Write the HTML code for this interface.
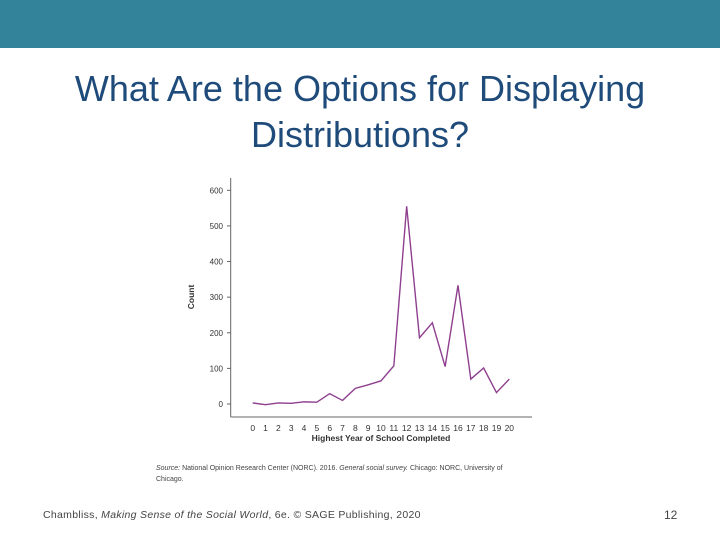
<!DOCTYPE html>
<html><head><meta charset="utf-8"><style>
body{margin:0;width:720px;height:540px;background:#fff;position:relative;overflow:hidden;font-family:"Liberation Sans",sans-serif}
.hdr{position:absolute;left:0;top:0;width:720px;height:48px;background:#33849b}
.title{position:absolute;left:0;width:720px;text-align:center;color:#1f4b7a;font-size:36px;line-height:46px;top:66px}
.foot{position:absolute;left:43px;top:509px;font-size:10.5px;color:#444;letter-spacing:0.3px}
.pg{position:absolute;left:664px;top:508px;font-size:12px;color:#444}
</style></head><body>
<div class="hdr"></div>
<div class="title">What Are the Options for Displaying<br>Distributions?</div>
<svg id="chart" width="720" height="540" style="position:absolute;left:0;top:0"></svg>
<div class="foot">Chambliss, <i>Making Sense of the Social World</i>, 6e. © SAGE Publishing, 2020</div>
<div class="pg">12</div>
<script>
const categories=[0,1,2,3,4,5,6,7,8,9,10,11,12,13,14,15,16,17,18,19,20];
const counts=[3,-2,3,2,6,5,29,10,44,54,65,107,555,186,228,105,333,70,101,32,70];
const yTicks=[0,100,200,300,400,500,600];
const svg=document.getElementById('chart');
const NS='http://www.w3.org/2000/svg';
const x=v=>252.7+v*(509.3-252.7)/20;
const y=v=>404-v*(404-190.3)/600;
function mk(t,a,txt){const e=document.createElementNS(NS,t);for(const k in a)e.setAttribute(k,a[k]);if(txt!==undefined)e.textContent=txt;svg.appendChild(e);return e;}
let e;
e=mk('line',{x1:230.7,y1:178,x2:230.7,y2:417,stroke:'#666','stroke-width':1});


e=mk('line',{x1:230.7,y1:417,x2:532,y2:417,stroke:'#666','stroke-width':1});


yTicks.forEach(t=>{
 e=mk('line',{x1:227,y1:y(t),x2:230.7,y2:y(t),stroke:'#666'});
 
 
 e=mk('text',{x:223,y:y(t)+3,'text-anchor':'end','font-size':8,fill:'#333'},t);
 
 
});
categories.forEach(c=>{
 e=mk('text',{x:x(c),y:431,'text-anchor':'middle','font-size':8.5,fill:'#333'},c);
 
 
});
e=mk('text',{x:381,y:441,'text-anchor':'middle','font-size':8.5,'font-weight':'bold',fill:'#333'},'Highest Year of School Completed');


e=mk('text',{x:0,y:0,'text-anchor':'middle','font-size':8.5,'font-weight':'bold',fill:'#333',transform:'translate(194,297) rotate(-90)'},'Count');


e=mk('polyline',{points:categories.map((c,i)=>x(c)+','+y(counts[i])).join(' '),fill:'none',stroke:'#8e3f8e','stroke-width':1.4});


e=mk('text',{x:156,y:470,'font-size':7,fill:'#444'});
e.innerHTML='<tspan font-style="italic">Source:</tspan> National Opinion Research Center (NORC). 2016. <tspan font-style="italic">General social survey.</tspan> Chicago: NORC, University of';


e=mk('text',{x:156,y:481,'font-size':7,fill:'#444'},'Chicago.');


</script>
</body></html>
